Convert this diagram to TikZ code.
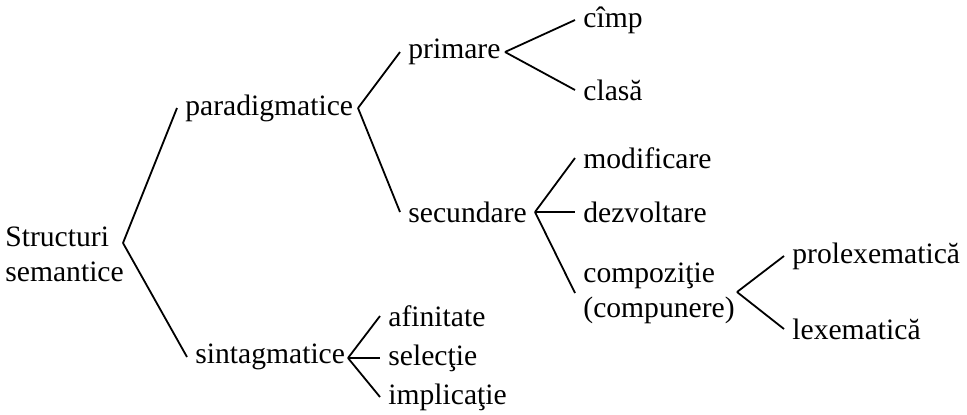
\documentclass[tikz,border=0pt]{standalone}
\usepackage{fontspec}
\setmainfont{Liberation Serif}
\begin{document}
\begin{tikzpicture}[x=0.5pt,y=-0.5pt,
    every node/.style={anchor=west,inner xsep=4pt,inner ysep=1pt,
      font=\fontsize{14.8}{17.5}\selectfont,align=left}]
      \useasboundingbox (0,0) rectangle (967,414);
      \draw
        (-3,254) node (struct){Structuri\\semantice}
        (177,108) node (parad){paradigmatice}
        (187,357) node (sintag){sintagmatice}
        (400,52) node (prim){primare}
        (400,212) node (secund){secundare}
        (575,20) node (cimp){cîmp}
        (575,90) node (clasa){clasă}
        (575,158) node (modif){modificare}
        (575,212) node (dezv){dezvoltare}
        (575,293) node (compoz){compoziţie\\(compunere)}
        (784,256) node (prolex){prolexematică}
        (784,329) node (lexem){lexematică}
        (380,316) node (afin){afinitate}
        (380,358) node (selec){selecţie}
        (380,397) node (impl){implicaţie};
      \coordinate (v0) at (123,243);
      \coordinate (v1) at (358,108);
      \coordinate (v2) at (348,358);
      \coordinate (v3) at (505,52);
      \coordinate (v4) at (535,212);
      \coordinate (v5) at (737,292);
      \begin{scope}[-,line width=0.9pt]
        \draw (v0) to (parad.west);
        \draw (v0) to (sintag.west);
        \draw (v1) to (prim.west);
        \draw (v1) to (secund.west);
        \draw (v3) to (cimp.west);
        \draw (v3) to (clasa.west);
        \draw (v4) to (modif.west);
        \draw (v4) to (dezv.west);
        \draw (v4) to (compoz.west);
        \draw (v5) to (prolex.west);
        \draw (v5) to (lexem.west);
        \draw (v2) to (afin.west);
        \draw (v2) to (selec.west);
        \draw (v2) to (impl.west);
      \end{scope}
    \end{tikzpicture}
\end{document}
